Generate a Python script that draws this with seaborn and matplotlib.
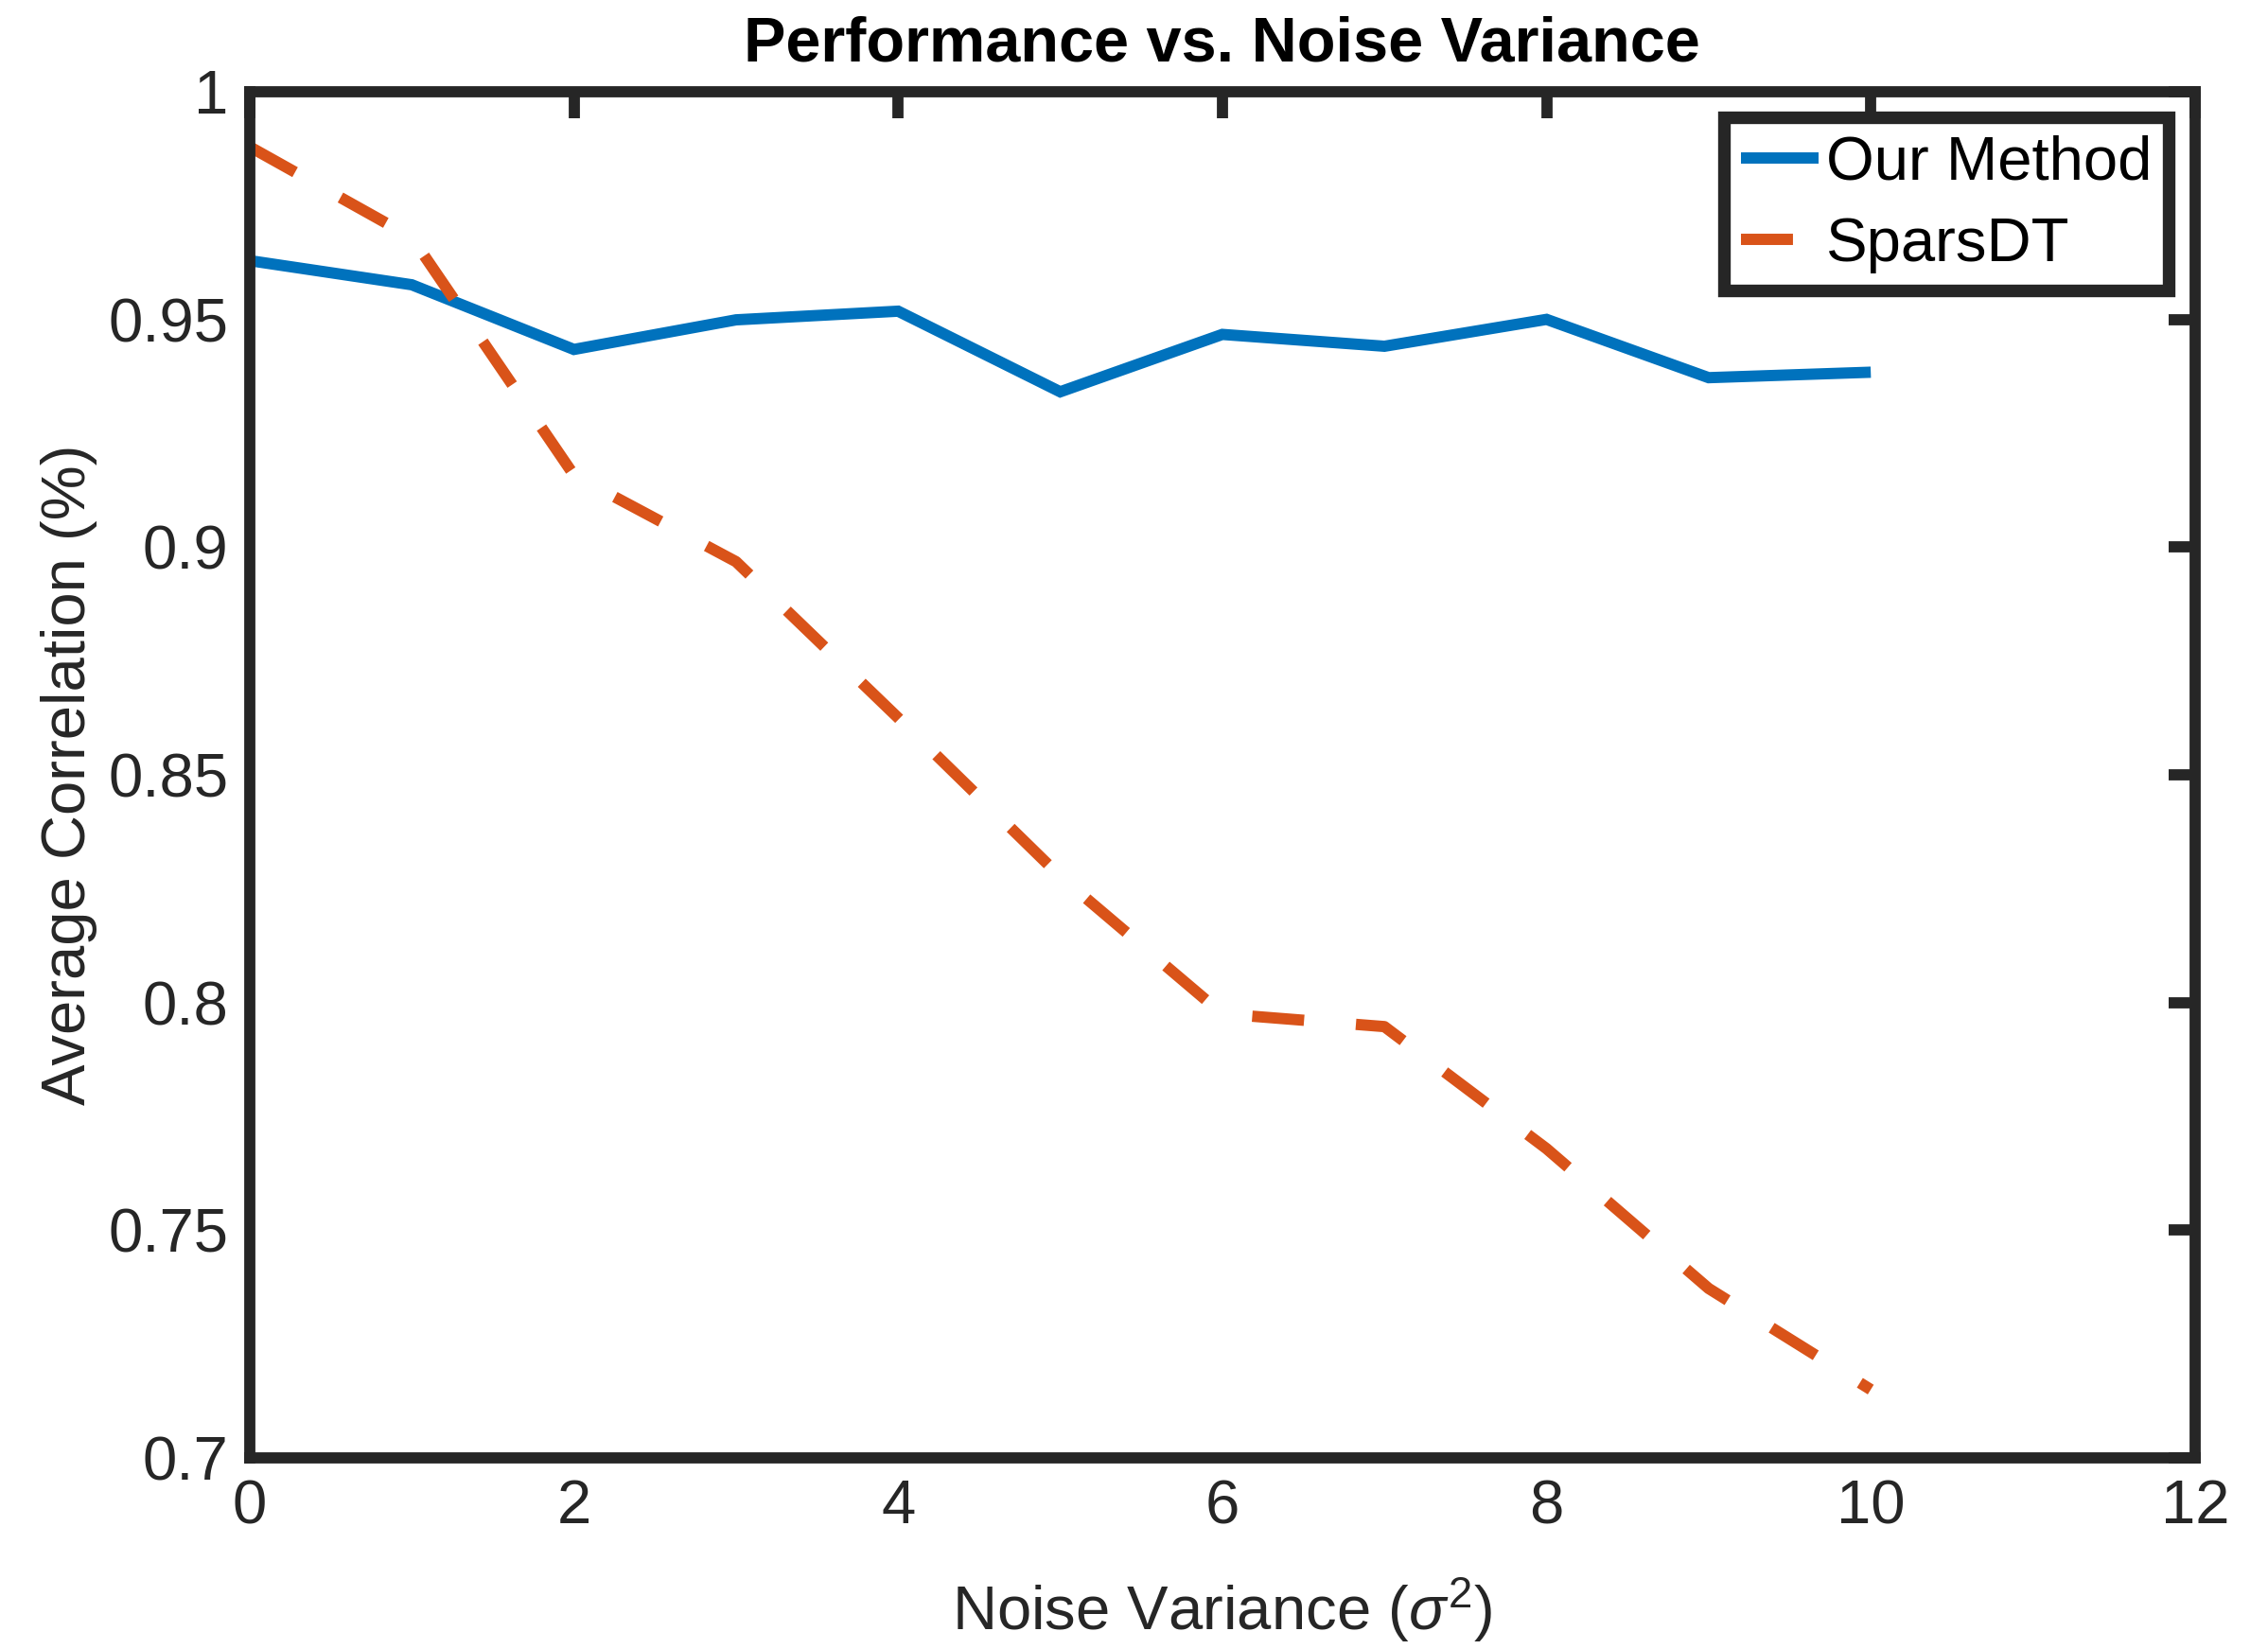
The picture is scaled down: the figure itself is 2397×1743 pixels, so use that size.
import numpy as np
import pandas as pd
import matplotlib
matplotlib.use('Agg')
import matplotlib.pyplot as plt
import seaborn as sns

# values
noise_var = [0, 1, 2, 3, 4, 5, 6, 7, 8, 9, 10]
our_method = [0.9629, 0.9576, 0.9434, 0.9499, 0.9518, 0.9341, 0.9467, 0.9441, 0.9500, 0.9372, 0.9384]
spars_dt = [0.9879, 0.9680, 0.9158, 0.8968, 0.8625, 0.8277, 0.7975, 0.7947, 0.7679, 0.7372, 0.7150]

x_ticks = [0, 2, 4, 6, 8, 10, 12]
y_ticks = [0.7, 0.75, 0.8, 0.85, 0.9, 0.95, 1.0]
y_tick_labels = ['0.7', '0.75', '0.8', '0.85', '0.9', '0.95', '1']

sns.set_theme(style='white')
plt.rcParams['font.family'] = ['Liberation Sans', 'DejaVu Sans']
plt.rcParams['mathtext.fontset'] = 'custom'
plt.rcParams['mathtext.rm'] = 'Liberation Sans'
plt.rcParams['mathtext.it'] = 'Liberation Sans:italic'

dark = '#262626'

fig = plt.figure(figsize=(23.97, 17.43), dpi=100)
ax = fig.add_axes([0.1101, 0.1159, 0.8577, 0.8285])

sns.lineplot(x=noise_var, y=our_method, ax=ax, color='#0072BD', linewidth=8.6,
             label='Our Method', solid_joinstyle='miter', solid_capstyle='butt')
sns.lineplot(x=noise_var, y=spars_dt, ax=ax, color='#D95319', linewidth=8.6,
             linestyle=(0, (4.6, 4.6)), dash_capstyle='butt', label='SparsDT')

ax.set_xlim(0, 12)
ax.set_ylim(0.7, 1)
ax.set_xticks(x_ticks)
ax.set_xticklabels([str(t) for t in x_ticks])
ax.set_yticks(y_ticks)
ax.set_yticklabels(y_tick_labels)
ax.tick_params(direction='in', length=20, width=8.5, top=True, right=True,
               labelsize=47, pad=16, colors=dark)

for s in ax.spines.values():
    s.set_linewidth(8.5)
    s.set_color(dark)
    s.set_visible(True)

ax.set_title('Performance vs. Noise Variance', fontsize=48, fontweight='bold',
             pad=23, color='black')
ax.set_xlabel(r'Noise Variance ($\sigma^2$)', fontsize=47, labelpad=30, color=dark)
ax.set_ylabel('Average Correlation (%)', fontsize=47, labelpad=8, color=dark)

leg = ax.legend(loc='upper right', fontsize=47, handlelength=1.25, handletextpad=0.12,
                labelspacing=0.4, borderpad=0.28, borderaxespad=0.42,
                frameon=True, fancybox=False, edgecolor=dark, framealpha=1)
leg.get_frame().set_linewidth(9.6)
for t in leg.get_texts():
    t.set_color('black')

fig.savefig('out.png', dpi=100)
